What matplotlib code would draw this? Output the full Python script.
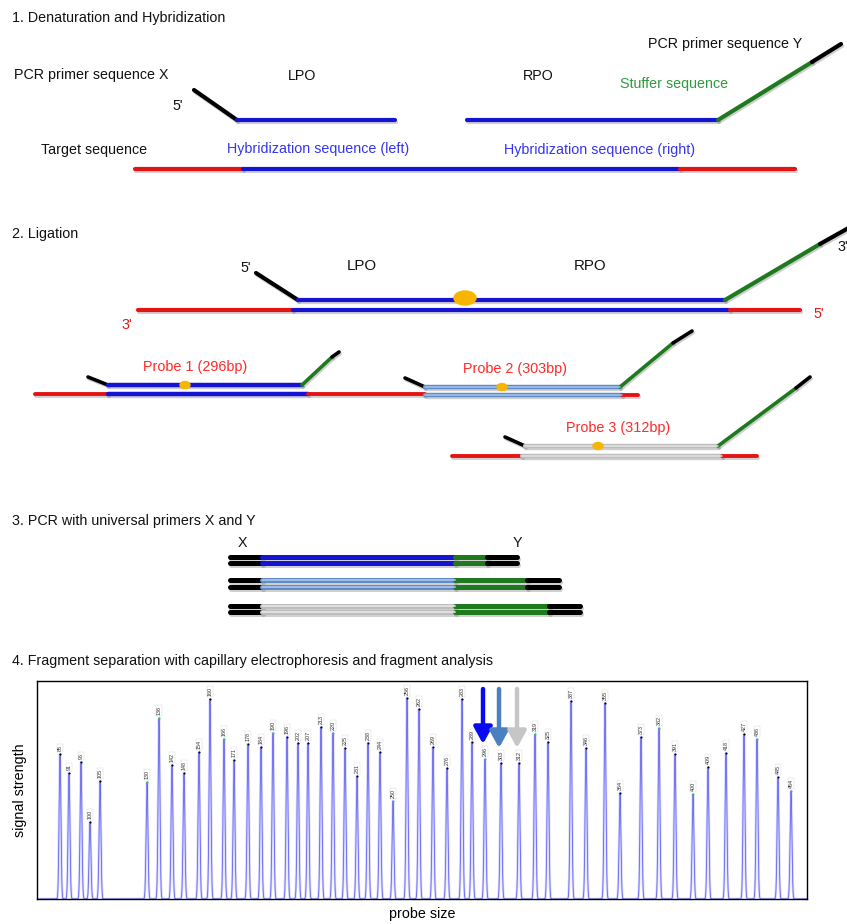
import numpy as np
import matplotlib
matplotlib.use('Agg')
import matplotlib.pyplot as plt
import matplotlib.patheffects as pe
from matplotlib import font_manager
from matplotlib.patches import Ellipse

# peak table of the electropherogram
probe_sizes = [85, 91, 96, 100, 105, 130, 136, 142, 148, 154, 160, 166, 171, 178, 184,
               190, 196, 202, 207, 213, 220, 225, 231, 238, 244, 250, 256, 262, 269, 276,
               283, 289, 296, 303, 312, 319, 325, 337, 346, 355, 364, 373, 382, 391, 400,
               409, 418, 427, 436, 445, 454]
migration = [23, 32, 44, 53, 63, 110, 122, 135, 147, 162, 173, 187, 197, 211, 224,
             236, 250, 261, 271, 284, 296, 308, 320, 331, 343, 356, 370, 382, 396, 410,
             425, 435, 448, 464, 482, 498, 511, 534, 549, 568, 583, 604, 622, 638, 656,
             671, 689, 707, 720, 741, 754]
signal = [145, 126, 137, 77, 118, 117, 181, 134, 126, 147, 200, 160, 139, 155, 152,
          166, 162, 156, 156, 172, 166, 151, 123, 156, 147, 98, 201, 190, 152, 131,
          200, 157, 140, 136, 136, 165, 157, 198, 151, 196, 106, 162, 171, 145, 105,
          132, 146, 165, 160, 122, 108]
green_marks = [130, 136, 166, 190, 220, 250, 296, 319, 382, 400, 436, 454]
probes = [296, 303, 312]

BLUE = '#1414d2'
RED = '#e41414'
GREEN = '#1f7a1f'
STEEL = '#5f8cc8'
GREY = '#bdbdbd'
YELLOW = '#f7b500'
probe_colors = [BLUE, STEEL, GREY]
arrow_colors = ['#0a0af0', '#4a7fc0', '#c6c6c6']

names = [f.name for f in font_manager.fontManager.ttflist]
REG = 'Liberation Sans'
NARROW = 'Liberation Sans Narrow' if 'Liberation Sans Narrow' in names else 'Liberation Sans'
plt.rcParams['font.family'] = REG

fig = plt.figure(figsize=(8.47, 9.24), dpi=100)
ax = fig.add_axes([0, 0, 1, 1])
ax.set_xlim(0, 847)
ax.set_ylim(924, 0)
ax.axis('off')

shadow = [pe.SimpleLineShadow(offset=(0.8, -1.3), shadow_color='#777777', alpha=0.35),
          pe.Normal()]


def strand(pts, color, lw=3.0, core=None):
    xs, ys = zip(*pts)
    ax.plot(xs, ys, color=color, lw=lw, solid_capstyle='round', path_effects=shadow, zorder=2)
    if core:
        ax.plot(xs, ys, color=core, lw=lw * 0.35, solid_capstyle='round', zorder=3)


def txt(x, y, s, size=10.3, color='#111111', ha='left', family=REG):
    ax.text(x, y, s, fontsize=size, color=color, ha=ha, va='center', family=family)


# 1. denaturation and hybridization
txt(12, 18, '1. Denaturation and Hybridization')
txt(14, 75, 'PCR primer sequence X')
txt(302, 76, 'LPO', ha='center')
txt(538, 76, 'RPO', ha='center')
txt(620, 84, 'Stuffer sequence', color='#2e9b3c')
txt(648, 44, 'PCR primer sequence Y')
txt(172, 106, "5'")
txt(94, 150, 'Target sequence', ha='center')
txt(318, 149, 'Hybridization sequence (left)', color='#3535f0', ha='center')
txt(600, 150, 'Hybridization sequence (right)', color='#3535f0', ha='center')

strand([(194, 90), (237, 120)], 'black')
strand([(237, 120), (395, 120)], BLUE)
strand([(467, 120), (718, 120)], BLUE)
strand([(718, 120), (812, 62)], GREEN)
strand([(812, 62), (841, 44)], 'black')
strand([(135, 169), (243, 169)], RED)
strand([(243, 169), (680, 169)], BLUE)
strand([(680, 169), (795, 169)], RED)

# 2. ligation
txt(12, 234, '2. Ligation', family=NARROW)
txt(240, 268, "5'", family=NARROW)
txt(362, 266, 'LPO', 10.8, ha='center', family=NARROW)
txt(590, 266, 'RPO', 10.8, ha='center', family=NARROW)
txt(837, 247, "3'", family=NARROW)
txt(121, 325, "3'", color=RED, family=NARROW)
txt(813, 314, "5'", color=RED, family=NARROW)

strand([(256, 273), (298, 300)], 'black')
strand([(298, 300), (725, 300)], BLUE)
strand([(725, 300), (820, 244)], GREEN)
strand([(820, 244), (852, 226)], 'black')
strand([(138, 310), (293, 310)], RED)
strand([(293, 310), (730, 310)], BLUE)
strand([(730, 310), (800, 310)], RED)
ax.add_patch(Ellipse((465, 298), 22, 14, color=YELLOW, zorder=4))

# three probe/target complexes
cx = [(88, 108, 302, 332, 339), (405, 425, 620, 673, 692), (505, 525, 718, 796, 810)]
cy = [(377, 385, 357, 352), (378, 387, 343, 331), (437, 446, 388, 377)]
bottoms = [(35, 108, 308, 425, 394), (425, 425, 622, 638, 395), (452, 522, 722, 757, 456)]
dots = [185, 502, 598]
label_pos = [(195, 367), (515, 369), (618, 428)]
cores = [None, '#a9c4e8', '#e4e4e4']
for i in range(3):
    x0, x1, x2, x3, x4 = cx[i]
    y0, y1, y3, y4 = cy[i]
    strand([(x0, y0), (x1, y1)], 'black', 2.6)
    strand([(x1, y1), (x2, y1)], probe_colors[i], 3.2, cores[i])
    strand([(x2, y1), (x3, y3)], GREEN, 2.6)
    strand([(x3, y3), (x4, y4)], 'black', 2.6)
    b0, b1, b2, b3, by = bottoms[i]
    if b1 > b0:
        strand([(b0, by), (b1, by)], RED, 2.8)
    strand([(b1, by), (b2, by)], probe_colors[i], 3.2, cores[i])
    strand([(b2, by), (b3, by)], RED, 2.8)
    ax.add_patch(Ellipse((dots[i], y1), 10, 7, color=YELLOW, zorder=4))
    txt(label_pos[i][0], label_pos[i][1], 'Probe %d (%dbp)' % (i + 1, probes[i]), 10.4,
        color='#ff2a2a', ha='center', family=NARROW)

# 3. PCR with universal primers
txt(12, 521, '3. PCR with universal primers X and Y')
txt(242, 543, 'X', ha='center')
txt(517, 543, 'Y', ha='center')
rows = [(557, 563, 487, 517), (580, 587, 527, 559), (606, 612, 549, 580)]
for i, (ya, yb, g_end, end) in enumerate(rows):
    for y in (ya, yb):
        strand([(230, y), (262, y)], 'black', 3.6)
        strand([(262, y), (455, y)], probe_colors[i], 3.6, cores[i])
        strand([(455, y), (g_end, y)], GREEN, 3.6)
        strand([(g_end, y), (end, y)], 'black', 3.6)

# 4. fragment analysis
txt(12, 661, '4. Fragment separation with capillary electrophoresis and fragment analysis')
ax.text(20, 790, 'signal strength', fontsize=10.3, rotation=90, ha='center', va='center')
ax.text(422, 914, 'probe size', fontsize=10.3, ha='center', va='center')

ep = fig.add_axes([37 / 847, 1 - 899 / 924, 770 / 847, 218 / 924])
ep.set_xlim(0, 770)
ep.set_ylim(0, 218)
ep.set_xticks([])
ep.set_yticks([])
for s in ep.spines.values():
    s.set_linewidth(1.0)

grid = np.linspace(0, 770, 30000)
trace = np.zeros_like(grid)
for m, h in zip(migration, signal):
    trace += h * np.exp(-0.5 * ((grid - m) / 0.9) ** 2)
ep.plot(grid, trace, color='#a8a8ff', lw=1.8, alpha=0.45)
ep.plot(grid, trace, color='#5050f2', lw=0.6, alpha=0.85)

for size, m, h in zip(probe_sizes, migration, signal):
    c = '#33cc33' if size in green_marks else 'black'
    ep.plot(m, h, 'o', ms=1.5, color=c, mec='none')
    ep.text(m, h + 3, str(size), fontsize=3.9, rotation=90, ha='center', va='bottom',
            color='#333333',
            bbox=dict(boxstyle='square,pad=0.12', fc='white', ec='#cccccc', lw=0.25))

for size, col in zip(probes, arrow_colors):
    k = probe_sizes.index(size)
    ep.annotate('', xy=(migration[k] - 2, signal[k] + 15), xytext=(migration[k] - 2, 210),
                arrowprops=dict(arrowstyle='-|>,head_width=0.55,head_length=1.0',
                                lw=3.2, color=col, shrinkA=0, shrinkB=0))

fig.savefig('out.png', dpi=100)
